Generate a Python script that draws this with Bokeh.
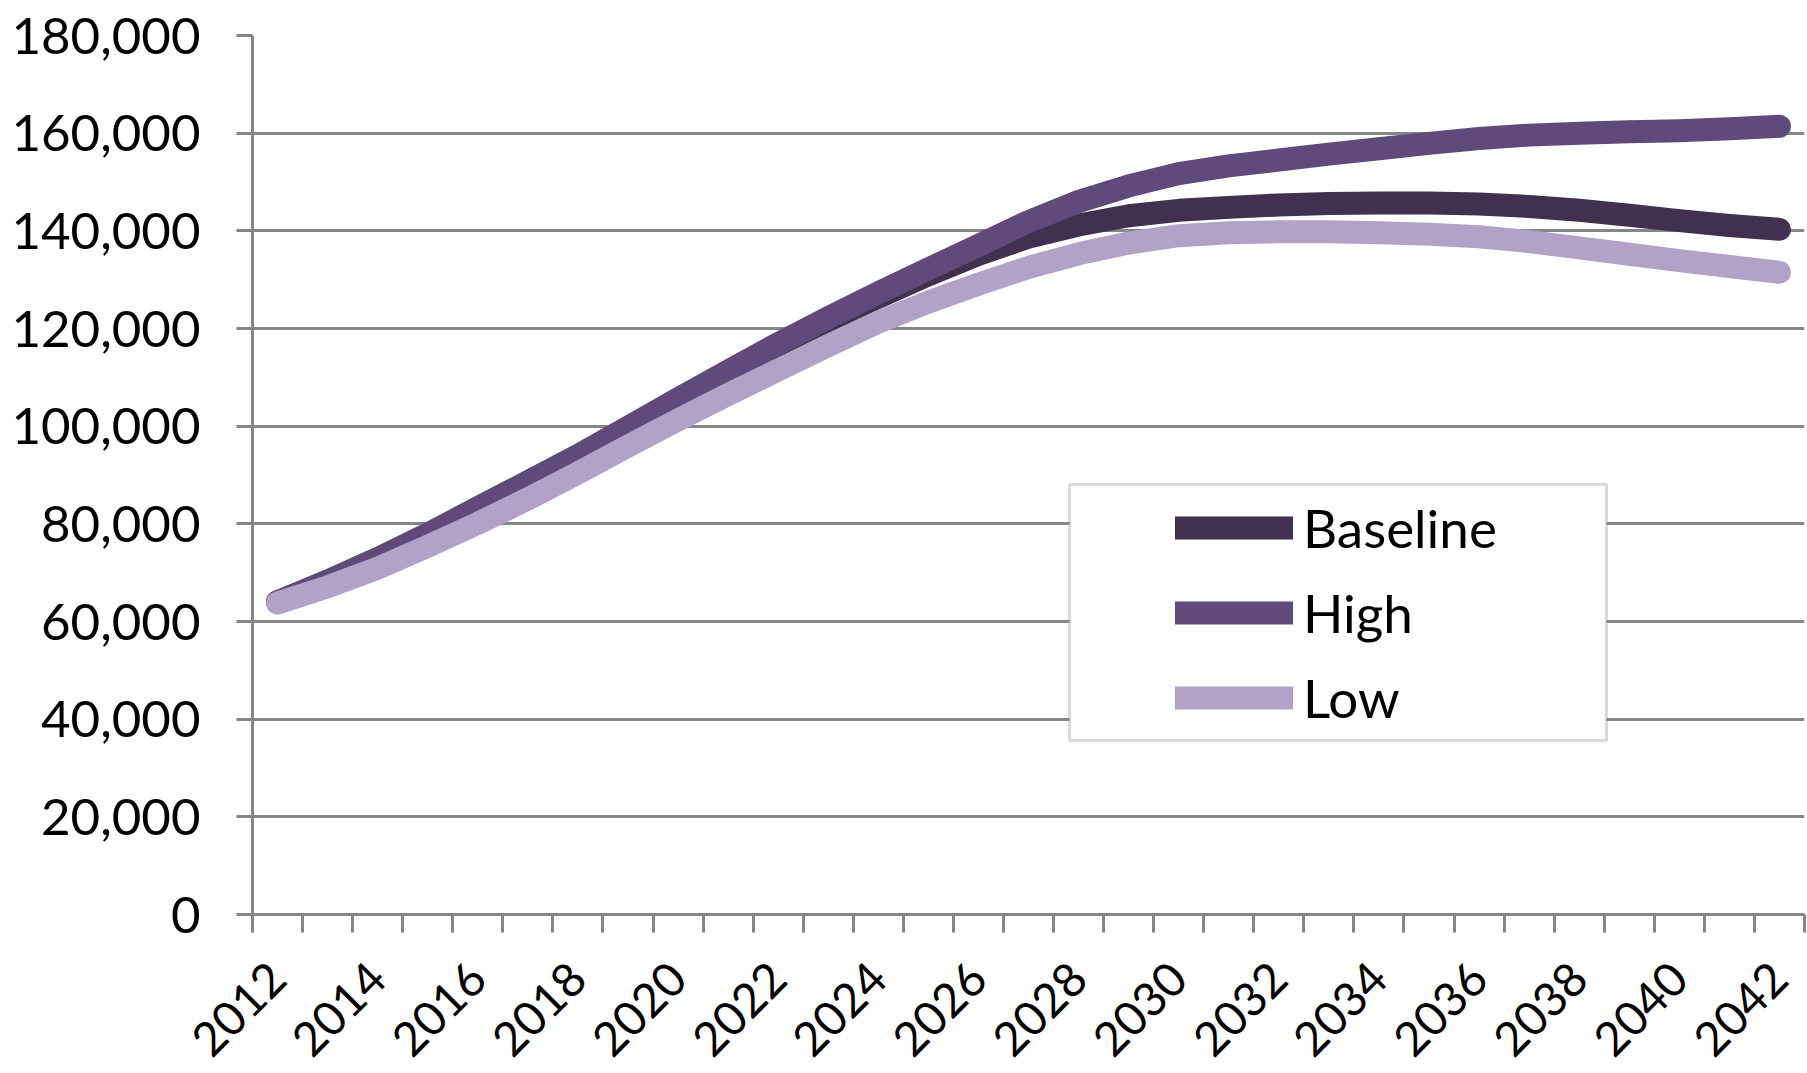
from math import pi
from bokeh.plotting import figure
from bokeh.models import (Range1d, FixedTicker, NumeralTickFormatter, Legend,
                          LegendItem, BoxAnnotation)
from bokeh.embed import file_html
from bokeh.resources import INLINE

years = list(range(2012, 2043))
baseline = [64000, 68100, 72600, 77500, 82900, 88200, 93700, 99400, 105200, 110800,
            116300, 121500, 126400, 131000, 135200, 138700, 141200, 143100, 144200, 144800,
            145300, 145600, 145700, 145700, 145500, 145000, 144200, 143200, 142100, 141100,
            140300]
high = [64000, 68300, 72900, 77900, 83300, 88600, 94000, 99800, 105600, 111300,
        116900, 122200, 127300, 132200, 137000, 141900, 146000, 149200, 151700, 153300,
        154500, 155700, 156800, 157900, 158900, 159600, 160000, 160300, 160500, 160900,
        161400]
low = [63800, 67100, 70900, 75400, 80100, 85100, 90400, 95900, 101300, 106500,
       111500, 116500, 121300, 125400, 129100, 132500, 135300, 137500, 139000, 139600,
       139800, 139800, 139600, 139300, 138800, 137800, 136500, 135200, 133900, 132700,
       131500]
series_names = ["Baseline", "High", "Low"]
series_colors = ["#41304F", "#604A7B", "#B3A2C7"]
y_ticks = list(range(0, 180001, 20000))
label_years = years[::2]

GRAY = "#868686"
FONT = "Lato"

p = figure(width=1807, height=1073, output_backend="svg", toolbar_location=None,
           x_range=Range1d(years[0] - 0.5, years[-1] + 0.5),
           y_range=Range1d(0, 180000),
           min_border_left=252, min_border_right=3, min_border_top=35,
           min_border_bottom=159)
p.outline_line_color = None

# y axis
p.yaxis.ticker = FixedTicker(ticks=y_ticks)
p.yaxis.formatter = NumeralTickFormatter(format="0,0")
p.yaxis.major_label_text_font = FONT
p.yaxis.major_label_text_font_size = "51px"
p.yaxis.major_label_text_color = "black"
p.yaxis.axis_line_color = GRAY
p.yaxis.axis_line_width = 3
p.yaxis.major_tick_line_color = GRAY
p.yaxis.major_tick_line_width = 3
p.yaxis.major_tick_out = 16
p.yaxis.major_tick_in = 0
p.yaxis.minor_tick_line_color = None
p.yaxis.major_label_standoff = 36

# x axis: labels every two years, ticks between categories
bounds = [y - 0.5 for y in years] + [years[-1] + 0.5]
p.xaxis.ticker = FixedTicker(ticks=label_years, minor_ticks=bounds)
p.xaxis.major_label_orientation = pi / 4
p.xaxis.major_label_text_font = FONT
p.xaxis.major_label_text_font_size = "47px"
p.xaxis.major_label_text_color = "black"
p.xaxis.axis_line_color = GRAY
p.xaxis.axis_line_width = 3
p.xaxis.major_tick_line_color = None
p.xaxis.major_tick_out = 0
p.xaxis.major_tick_in = 0
p.xaxis.minor_tick_line_color = GRAY
p.xaxis.minor_tick_line_width = 3
p.xaxis.minor_tick_out = 18
p.xaxis.minor_tick_in = 0
p.xaxis.major_label_standoff = 38

p.xgrid.grid_line_color = None
p.ygrid.grid_line_color = GRAY
p.ygrid.grid_line_width = 3

renderers = []
for name, vals, col in zip(series_names, [baseline, high, low], series_colors):
    r = p.line(years, vals, line_color=col, line_width=23,
               line_cap="round", line_join="round")
    renderers.append(r)

box = BoxAnnotation(left=817, right=1354, bottom=174, top=430,
                    left_units="screen", right_units="screen",
                    bottom_units="screen", top_units="screen",
                    fill_color="white", fill_alpha=1.0,
                    line_color=GRAY, line_width=3)
p.add_layout(box)

legend = Legend(items=[LegendItem(label=n, renderers=[r]) for n, r in zip(series_names, renderers)],
                location=(923, 174), orientation="vertical", padding=0, spacing=0,
                margin=0, glyph_width=118, glyph_height=85, label_height=85,
                label_standoff=10, label_text_font=FONT, label_text_font_size="53px",
                label_text_color="black", border_line_color=None,
                background_fill_alpha=0)
p.add_layout(legend)

open("out.html", "w").write(file_html(p, INLINE))
